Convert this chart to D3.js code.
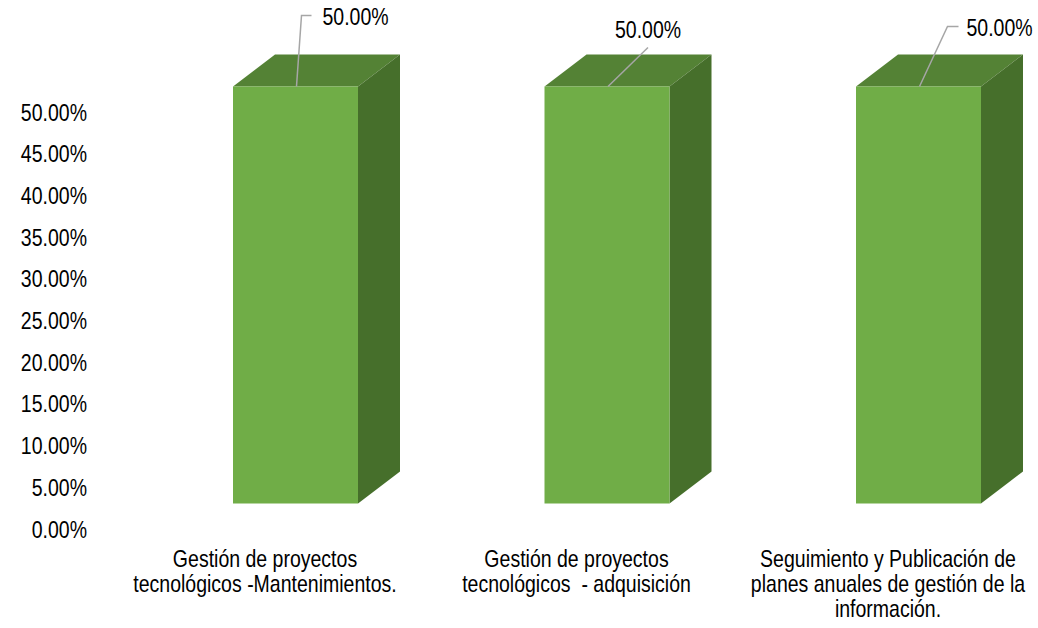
<!DOCTYPE html>
<meta charset="utf-8">
<style>
    body { margin: 0; background: #fff; }
    text {
        font-family: "Liberation Sans", Arial, sans-serif;
        font-size: 19.5px;
        fill: #000;
    }
    .leader { fill: none; stroke: #a6a6a6; stroke-width: 1.5; }
</style>
<body>
<script src="https://cdn.jsdelivr.net/npm/d3@7"></script>
<script>
    // data
    var categories = [
        "Gestión de proyectos\ntecnológicos -Mantenimientos.",
        "Gestión de proyectos\ntecnológicos  - adquisición",
        "Seguimiento y Publicación de\nplanes anuales de gestión de la\ninformación."
    ];
    var values = [0.5, 0.5, 0.5];
    var yTicks = [0, 0.05, 0.10, 0.15, 0.20, 0.25, 0.30, 0.35, 0.40, 0.45, 0.50];

    // layout: where each data label sits relative to the bar top (leader line bend + text)
    var labelLayout = [
        { bend: [5, -71], end: [15, -71], tx: 26, ty: -62 },
        { bend: [40, -39], end: null, tx: 7, ty: -49 },
        { bend: [28, -60], end: [39, -60], tx: 47, ty: -51 }
    ];

    var width = 1038, height = 628;
    var stretch = 1.22;   // text in the picture is tall and narrow
    var depthX = 42, depthY = -32;

    var svg = d3.select("body").append("svg")
        .attr("width", width)
        .attr("height", height);

    var x = d3.scaleBand()
        .domain(categories)
        .range([109.25, 1043.75]);

    // axis sits on the back wall, the front faces sit 25px lower
    var y = d3.scaleLinear()
        .domain([0, 0.5])
        .range([528.5, 111.5]);
    var frontShift = -25;

    var yAxis = d3.axisLeft(y)
        .tickValues(yTicks)
        .tickFormat(d3.format(".2%"))
        .tickSize(0)
        .tickPadding(0);

    var gy = svg.append("g")
        .attr("transform", "translate(87,0)")
        .call(yAxis);
    gy.select(".domain").remove();
    gy.selectAll("text")
        .attr("font-family", null)
        .attr("font-size", null)
        .attr("fill", "#000")
        .attr("dy", null)
        .attr("y", 8.5 / stretch)
        .attr("transform", "scale(1," + stretch + ")");

    var barW = 125;
    function barLeft(c) { return x(c) + x.bandwidth() / 2 - 32; }

    var bars = svg.selectAll(".bar")
        .data(values)
        .enter().append("g")
        .attr("class", "bar");

    // top face
    bars.append("path")
        .attr("fill", "#548235")
        .attr("d", function(d, i) {
            var x0 = barLeft(categories[i]), yt = y(d) + frontShift;
            return "M" + x0 + "," + yt +
                "L" + (x0 + depthX) + "," + (yt + depthY) +
                "L" + (x0 + barW + depthX) + "," + (yt + depthY) +
                "L" + (x0 + barW) + "," + yt + "Z";
        });

    // side face
    bars.append("path")
        .attr("fill", "#466f2b")
        .attr("d", function(d, i) {
            var x1 = barLeft(categories[i]) + barW,
                yt = y(d) + frontShift,
                yb = y(0) + frontShift;
            return "M" + x1 + "," + yt +
                "L" + (x1 + depthX) + "," + (yt + depthY) +
                "L" + (x1 + depthX) + "," + (yb + depthY) +
                "L" + x1 + "," + yb + "Z";
        });

    // front face
    bars.append("rect")
        .attr("fill", "#70ad47")
        .attr("x", function(d, i) { return barLeft(categories[i]); })
        .attr("y", function(d) { return y(d) + frontShift; })
        .attr("width", barW)
        .attr("height", function(d) { return y(0) - y(d); });

    // data labels with leader lines
    values.forEach(function(v, i) {
        var cx = barLeft(categories[i]) + barW / 2 + 1,
            ty = y(v) + frontShift,
            L = labelLayout[i];
        var pts = [[cx, ty], [cx + L.bend[0], ty + L.bend[1]]];
        if (L.end) pts.push([cx + L.end[0], ty + L.end[1]]);
        svg.append("path")
            .attr("class", "leader")
            .attr("d", d3.line()(pts));
        svg.append("g")
            .attr("transform", "translate(" + (cx + L.tx) + "," + (ty + L.ty) + ") scale(1," + stretch + ")")
            .append("text")
            .text(d3.format(".2%")(v));
    });

    // category labels
    var lab = svg.selectAll(".cat")
        .data(categories)
        .enter().append("g")
        .attr("class", "cat")
        .attr("transform", function(d) {
            return "translate(" + (x(d) + x.bandwidth() / 2) + ",567) scale(1," + stretch + ")";
        })
        .append("text")
        .attr("text-anchor", "middle");

    lab.selectAll("tspan")
        .data(function(d) { return d.split("\n"); })
        .enter().append("tspan")
        .attr("x", 0)
        .attr("dy", function(d, i) { return i === 0 ? 0 : 25 / stretch; })
        .style("white-space", "pre")
        .text(function(d) { return d; });
</script>
</body>
